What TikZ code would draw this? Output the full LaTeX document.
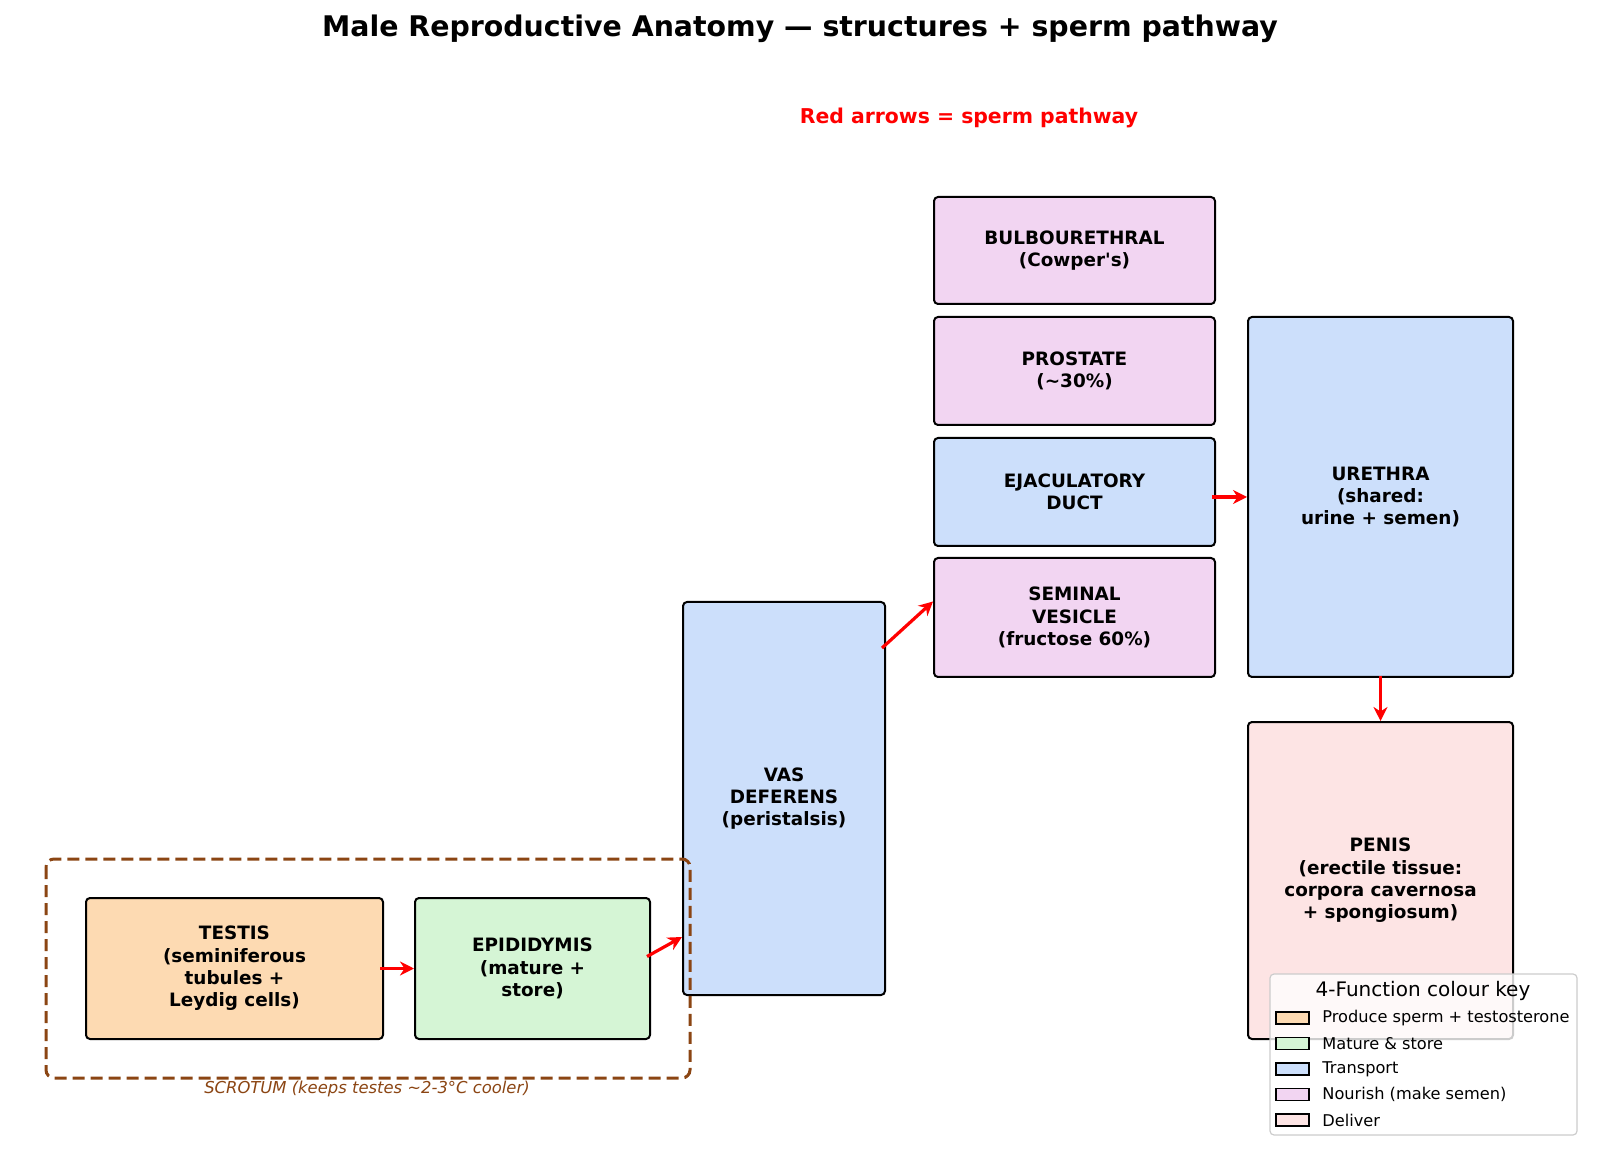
\documentclass[tikz,border=0pt]{standalone}
\usepackage{fontspec}
\setmainfont{DejaVu Sans}
\usepackage{xcolor}
\usepackage{tikz}
\usetikzlibrary{arrows.meta}

\definecolor{produce}{HTML}{FDDAB2}
\definecolor{mature}{HTML}{D5F5D5}
\definecolor{transport}{HTML}{CCDFFB}
\definecolor{nourish}{HTML}{F2D5F2}
\definecolor{deliver}{HTML}{FDE4E4}
\definecolor{scrotbrown}{HTML}{8B4513}

\tikzset{
  organ/.style={draw, line width=1pt, rounded corners=2pt, align=center,
    inner sep=0pt, font=\bfseries\fontsize{9.2}{11.2}\selectfont},
  pathway/.style={draw=red, line width=1.6pt,
    -{Stealth[length=7pt,width=7pt]}},
  keypatch/.style={draw, line width=0.8pt, minimum width=16.5pt,
    minimum height=6pt, inner sep=0pt},
  keytext/.style={anchor=west, inner sep=0pt, font=\fontsize{8.1}{10}\selectfont}
}

\begin{document}
\begin{tikzpicture}[x=0.5pt,y=-0.5pt]
    \useasboundingbox (0,0) rectangle (1600,1159);
    \node (title) at (800,29)
      {\bfseries\fontsize{14.2}{17}\selectfont Male Reproductive Anatomy — structures + sperm pathway};
    \node[text=red] (note) at (969,118)
      {\bfseries\fontsize{10.2}{12}\selectfont Red arrows = sperm pathway};
    % structures
    \node[organ, fill=produce, minimum width=148.5pt, minimum height=70.5pt]
      (testis) at (234.5,968.5) {TESTIS\\(seminiferous\\tubules +\\Leydig cells)};
    \node[organ, fill=mature, minimum width=117.5pt, minimum height=70.5pt]
      (epid) at (532.5,968.5) {EPIDIDYMIS\\(mature +\\store)};
    \node[organ, fill=transport, minimum width=101pt, minimum height=196.5pt]
      (vas) at (784,798.5) {VAS\\DEFERENS\\(peristalsis)};
    \node[organ, fill=nourish, minimum width=140.5pt, minimum height=53.5pt]
      (bulbo) at (1074.5,250.5) {BULBOURETHRAL\\(Cowper\textquotesingle s)};
    \node[organ, fill=nourish, minimum width=140.5pt, minimum height=54pt]
      (prostate) at (1074.5,371) {PROSTATE\\(\textasciitilde 30\%)};
    \node[organ, fill=transport, minimum width=140.5pt, minimum height=54pt]
      (ejac) at (1074.5,492) {EJACULATORY\\DUCT};
    \node[organ, fill=nourish, minimum width=140.5pt, minimum height=59.5pt]
      (seminal) at (1074.5,617.5) {SEMINAL\\VESICLE\\(fructose 60\%)};
    \node[organ, fill=transport, minimum width=132.5pt, minimum height=180pt]
      (urethra) at (1380.5,497) {URETHRA\\(shared:\\urine + semen)};
    \node[organ, fill=deliver, minimum width=132.5pt, minimum height=158.5pt]
      (penis) at (1380.5,880.5) {PENIS\\(erectile tissue:\\corpora cavernosa\\+ spongiosum)};
    % scrotum outline (drawn over the vas)
    \draw[scrotbrown, line width=1.5pt, dash pattern=on 6pt off 3pt,
      rounded corners=4pt] (46,859) rectangle (690,1078);
    \node[text=scrotbrown, font=\itshape\fontsize{8.2}{10}\selectfont]
      (scrotum) at (367,1089) {SCROTUM (keeps testes \textasciitilde 2-3°C cooler)};
    % sperm pathway
    \draw[pathway] ([xshift=-2pt]testis.east) -- (epid.west);
    \draw[pathway] ([xshift=-2pt,yshift=6pt]epid.east)
      -- ([yshift=-168pt]vas.north west);
    \draw[pathway] ([xshift=-2pt,yshift=-23.5pt]vas.north east)
      -- ([yshift=8pt]seminal.west);
    \draw[pathway] ([xshift=-2pt]ejac.east |- urethra.west) -- (urethra.west);
    \draw[pathway] ([yshift=1pt]urethra.south) -- (penis.north);
    % colour key
    \draw[draw=black!20, fill=white, fill opacity=0.8, line width=0.6pt,
      rounded corners=2pt] (1270,974) rectangle (1577,1135);
    \node[font=\fontsize{10}{12}\selectfont] (keytitle) at (1423,991)
      {4-Function colour key};
    \node[keypatch, fill=produce] (k1) at (1292.5,1018) {};
    \node[keypatch, fill=mature] (k2) at (1292.5,1043.5) {};
    \node[keypatch, fill=transport] (k3) at (1292.5,1069) {};
    \node[keypatch, fill=nourish] (k4) at (1292.5,1094.5) {};
    \node[keypatch, fill=deliver] (k5) at (1292.5,1120) {};
    \node[keytext] (t1) at (1322,1018) {Produce sperm + testosterone};
    \node[keytext] (t2) at (1322,1043.5) {Mature \& store};
    \node[keytext] (t3) at (1322,1069) {Transport};
    \node[keytext] (t4) at (1322,1094.5) {Nourish (make semen)};
    \node[keytext] (t5) at (1322,1120) {Deliver};
  \end{tikzpicture}
\end{document}
